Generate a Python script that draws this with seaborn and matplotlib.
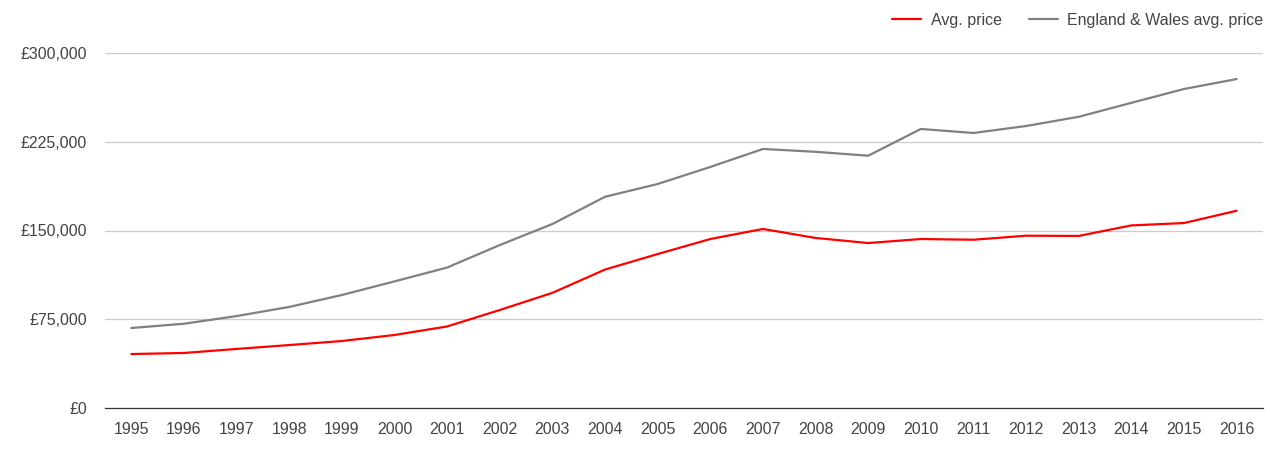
import pandas as pd
import numpy as np
import matplotlib.pyplot as plt
import seaborn as sns
from matplotlib.ticker import FuncFormatter
from matplotlib.lines import Line2D

# ── DATA ──────────────────────────────────────────────────
years = [str(y) for y in range(1995, 2017)]
avg_price = [45600, 46500, 49900, 53200, 56600, 61700, 68900, 82800, 97300, 117000,
             130100, 142800, 151300, 143700, 139400, 142800, 142200, 145600, 145400,
             154300, 156300, 166700]
ew_avg_price = [67600, 71200, 77700, 85400, 95500, 107000, 118700, 137700, 155500, 178500,
                189300, 203700, 218900, 216500, 213200, 235800, 232400, 238300, 246100,
                257900, 269600, 278000]
series_names = ["Avg. price", "England & Wales avg. price"]

df = pd.DataFrame({
    "year": years * 2,
    "price": avg_price + ew_avg_price,
    "series": [series_names[0]] * len(years) + [series_names[1]] * len(years),
})

# ── STYLE ─────────────────────────────────────────────────
sns.set_theme(style="white")
plt.rcParams["font.family"] = ["Liberation Sans", "DejaVu Sans"]

fig = plt.figure(figsize=(12.7, 4.5), dpi=100)
ax = fig.add_axes([105 / 1270, 42 / 450, 1158 / 1270, 355 / 450])

sns.lineplot(data=df, x="year", y="price", hue="series", sort=False,
             palette={series_names[0]: "#ff0000", series_names[1]: "#808080"},
             linewidth=1.6, ax=ax, legend=False)

ax.set_xlim(-0.5, len(years) - 0.5)
ax.set_ylim(0, 300000)
ax.set_yticks([0, 75000, 150000, 225000, 300000])
ax.yaxis.set_major_formatter(FuncFormatter(lambda v, p: f"£{int(v):,}"))
ax.grid(axis="y", color="#cccccc", linewidth=0.9)
ax.set_axisbelow(True)
for s in ["top", "right", "left"]:
    ax.spines[s].set_visible(False)
ax.spines["bottom"].set_color("#333333")
ax.spines["bottom"].set_linewidth(0.9)
ax.tick_params(axis="both", length=0, labelsize=11.5, colors="#444444")
ax.tick_params(axis="y", pad=13)
ax.tick_params(axis="x", pad=10)
ax.set_xlabel("")
ax.set_ylabel("")

handles = [Line2D([], [], color="#ff0000", lw=1.6), Line2D([], [], color="#808080", lw=1.6)]
fig.legend(handles, series_names, loc="upper right", bbox_to_anchor=(1.006, 1.004), ncol=2,
           frameon=False, fontsize=11.5, labelcolor="#444444", handlelength=1.8,
           columnspacing=1.7, handletextpad=0.6)

plt.savefig("out.png", dpi=100)
